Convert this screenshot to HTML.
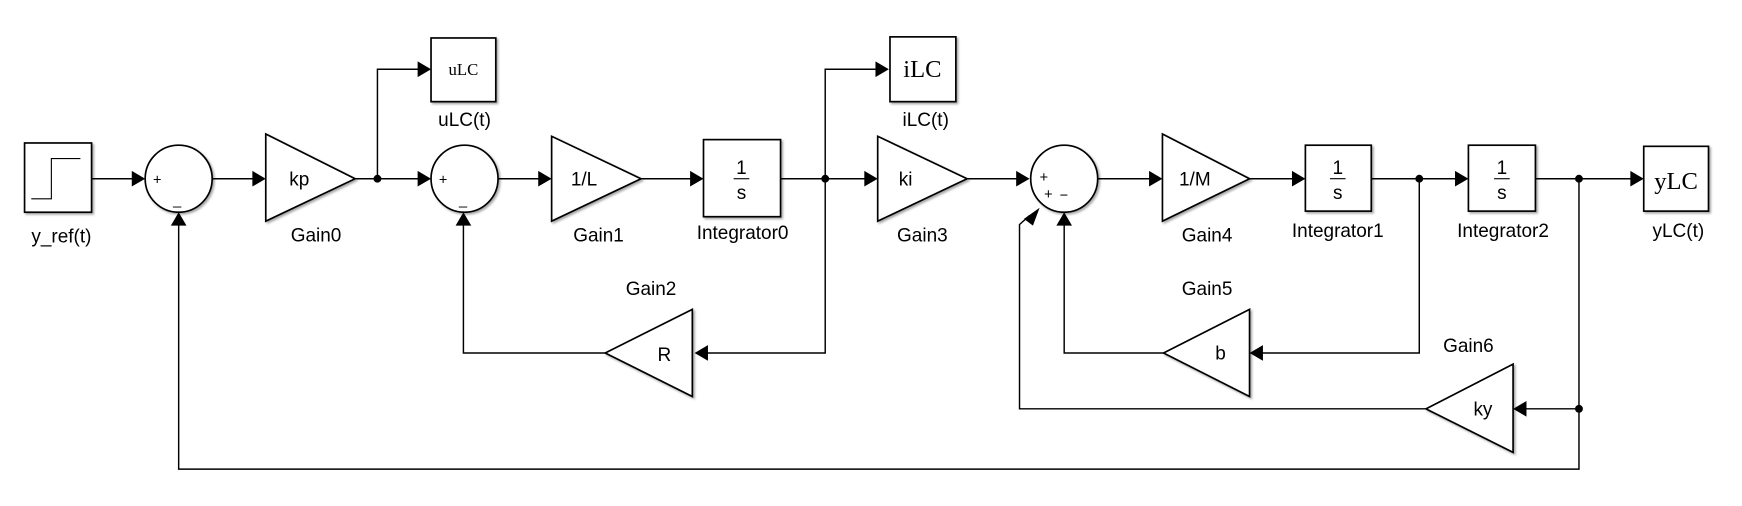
<!DOCTYPE html>
<html><head><meta charset="utf-8"><style>
html,body{margin:0;padding:0;background:#fff;}
svg{display:block;}
text{font-family:"Liberation Sans",sans-serif;fill:#000;}
.s{font-family:"Liberation Serif",serif;}
</style></head><body>
<svg width="1742" height="506" viewBox="0 0 1560 453" preserveAspectRatio="none" xmlns="http://www.w3.org/2000/svg">
<defs>
<filter id="sh" x="-10%" y="-10%" width="130%" height="130%"><feDropShadow dx="1.5" dy="1.5" stdDeviation="1" flood-color="#000" flood-opacity="0.35"/></filter>
</defs>
<g fill="none" stroke="#000" stroke-width="1.3">
<line x1="82" y1="160" x2="120" y2="160"/>
<line x1="190" y1="160" x2="228" y2="160"/>
<line x1="318" y1="160" x2="376" y2="160"/>
<polyline points="338,160 338,62 376,62"/>
<line x1="446" y1="160" x2="484" y2="160"/>
<line x1="574" y1="160" x2="620" y2="160"/>
<line x1="698" y1="160" x2="776" y2="160"/>
<polyline points="739,160 739,62 786,62"/>
<polyline points="739,160 739,316 632,316"/>
<polyline points="542,316 415,316 415,200"/>
<line x1="866" y1="160" x2="912" y2="160"/>
<line x1="983" y1="160" x2="1031" y2="160"/>
<line x1="1119" y1="160" x2="1159" y2="160"/>
<line x1="1228" y1="160" x2="1305" y2="160"/>
<polyline points="1271,160 1271,316 1129,316"/>
<polyline points="1042,316 953,316 953,200"/>
<line x1="1375" y1="160" x2="1462" y2="160"/>
<polyline points="1414,160 1414,420 160,420 160,200"/>
<line x1="1414" y1="366" x2="1365" y2="366"/>
<polyline points="1277,366 913,366 913,201 922,193"/>
</g>
<g fill="#000">
<polygon points="118,153 130,160 118,167"/>
<polygon points="226,153 238,160 226,167"/>
<polygon points="374,55 386,62 374,69"/>
<polygon points="374,153 386,160 374,167"/>
<polygon points="482,153 494,160 482,167"/>
<polygon points="618,153 630,160 618,167"/>
<polygon points="784,55 796,62 784,69"/>
<polygon points="774,153 786,160 774,167"/>
<polygon points="634,309 622,316 634,323"/>
<polygon points="408,202 415,190 422,202"/>
<polygon points="153,202 160,190 167,202"/>
<polygon points="910,153 922,160 910,167"/>
<polygon points="1029,153 1041,160 1029,167"/>
<polygon points="1157,153 1169,160 1157,167"/>
<polygon points="1303,153 1315,160 1303,167"/>
<polygon points="1460,153 1472,160 1460,167"/>
<polygon points="1131,309 1119,316 1131,323"/>
<polygon points="946,202 953,190 960,202"/>
<polygon points="1367,359 1355,366 1367,373"/>
<polygon points="917,196 931,186 925,202"/>
<circle cx="338" cy="160" r="3.5"/>
<circle cx="739" cy="160" r="3.5"/>
<circle cx="1271" cy="160" r="3.5"/>
<circle cx="1414" cy="160" r="3.5"/>
<circle cx="1414" cy="366" r="3.5"/>
</g>
<g fill="#fff" stroke="#000" stroke-width="1.5" filter="url(#sh)">
<rect x="22" y="128" width="60" height="62"/>
<circle cx="160" cy="160" r="30"/>
<polygon points="238,120 238,198 318,160"/>
<rect x="386" y="34" width="58" height="57"/>
<circle cx="416" cy="160" r="30"/>
<polygon points="494,122 494,198 574,160"/>
<rect x="630" y="125" width="69" height="69"/>
<rect x="797" y="33" width="59" height="58"/>
<polygon points="786,122 786,198 866,160"/>
<circle cx="953" cy="160" r="30"/>
<polygon points="1041,120 1041,198 1119,160"/>
<rect x="1169" y="130" width="59" height="59"/>
<rect x="1315" y="130" width="60" height="59"/>
<rect x="1472" y="131" width="58" height="58"/>
<polygon points="542,316 620,277 620,355"/>
<polygon points="1042,316 1119,277 1119,355"/>
<polygon points="1277,366 1355,326 1355,405"/>
</g>
<polyline points="28,178 46,178 46,142 72,142" fill="none" stroke="#000" stroke-width="1"/>
<g font-size="17" text-anchor="middle">
<text x="55" y="217">y_ref(t)</text>
<text x="268" y="166">kp</text>
<text x="283" y="216">Gain0</text>
<text class="s" x="415" y="67" font-size="15">uLC</text>
<text x="416" y="113">uLC(t)</text>
<text x="523" y="166">1/L</text>
<text x="536" y="216">Gain1</text>
<text x="664" y="156">1</text>
<line x1="657" y1="160" x2="671" y2="160" stroke="#000" stroke-width="1"/>
<text x="664" y="178">s</text>
<text x="665" y="214">Integrator0</text>
<text class="s" x="826" y="69" font-size="22">iLC</text>
<text x="829" y="113">iLC(t)</text>
<text x="811" y="166">ki</text>
<text x="826" y="216">Gain3</text>
<text x="583" y="264">Gain2</text>
<text x="595" y="323">R</text>
<text x="1070" y="166">1/M</text>
<text x="1081" y="216">Gain4</text>
<text x="1198" y="156">1</text>
<line x1="1191" y1="160" x2="1205" y2="160" stroke="#000" stroke-width="1"/>
<text x="1198" y="178">s</text>
<text x="1198" y="212">Integrator1</text>
<text x="1345" y="156">1</text>
<line x1="1338" y1="160" x2="1352" y2="160" stroke="#000" stroke-width="1"/>
<text x="1345" y="178">s</text>
<text x="1346" y="212">Integrator2</text>
<text class="s" x="1501" y="169" font-size="22">yLC</text>
<text x="1503" y="212">yLC(t)</text>
<text x="1081" y="264">Gain5</text>
<text x="1093" y="322">b</text>
<text x="1315" y="315">Gain6</text>
<text x="1328" y="372">ky</text>
</g>
<g font-size="13">
<text x="137" y="165">+</text><text x="155" y="183">_</text>
<text x="393" y="165">+</text><text x="411" y="183">_</text>
<text x="931" y="163">+</text><text x="935" y="178">+</text><text x="949" y="179">−</text>
</g>
</svg>
</body></html>
